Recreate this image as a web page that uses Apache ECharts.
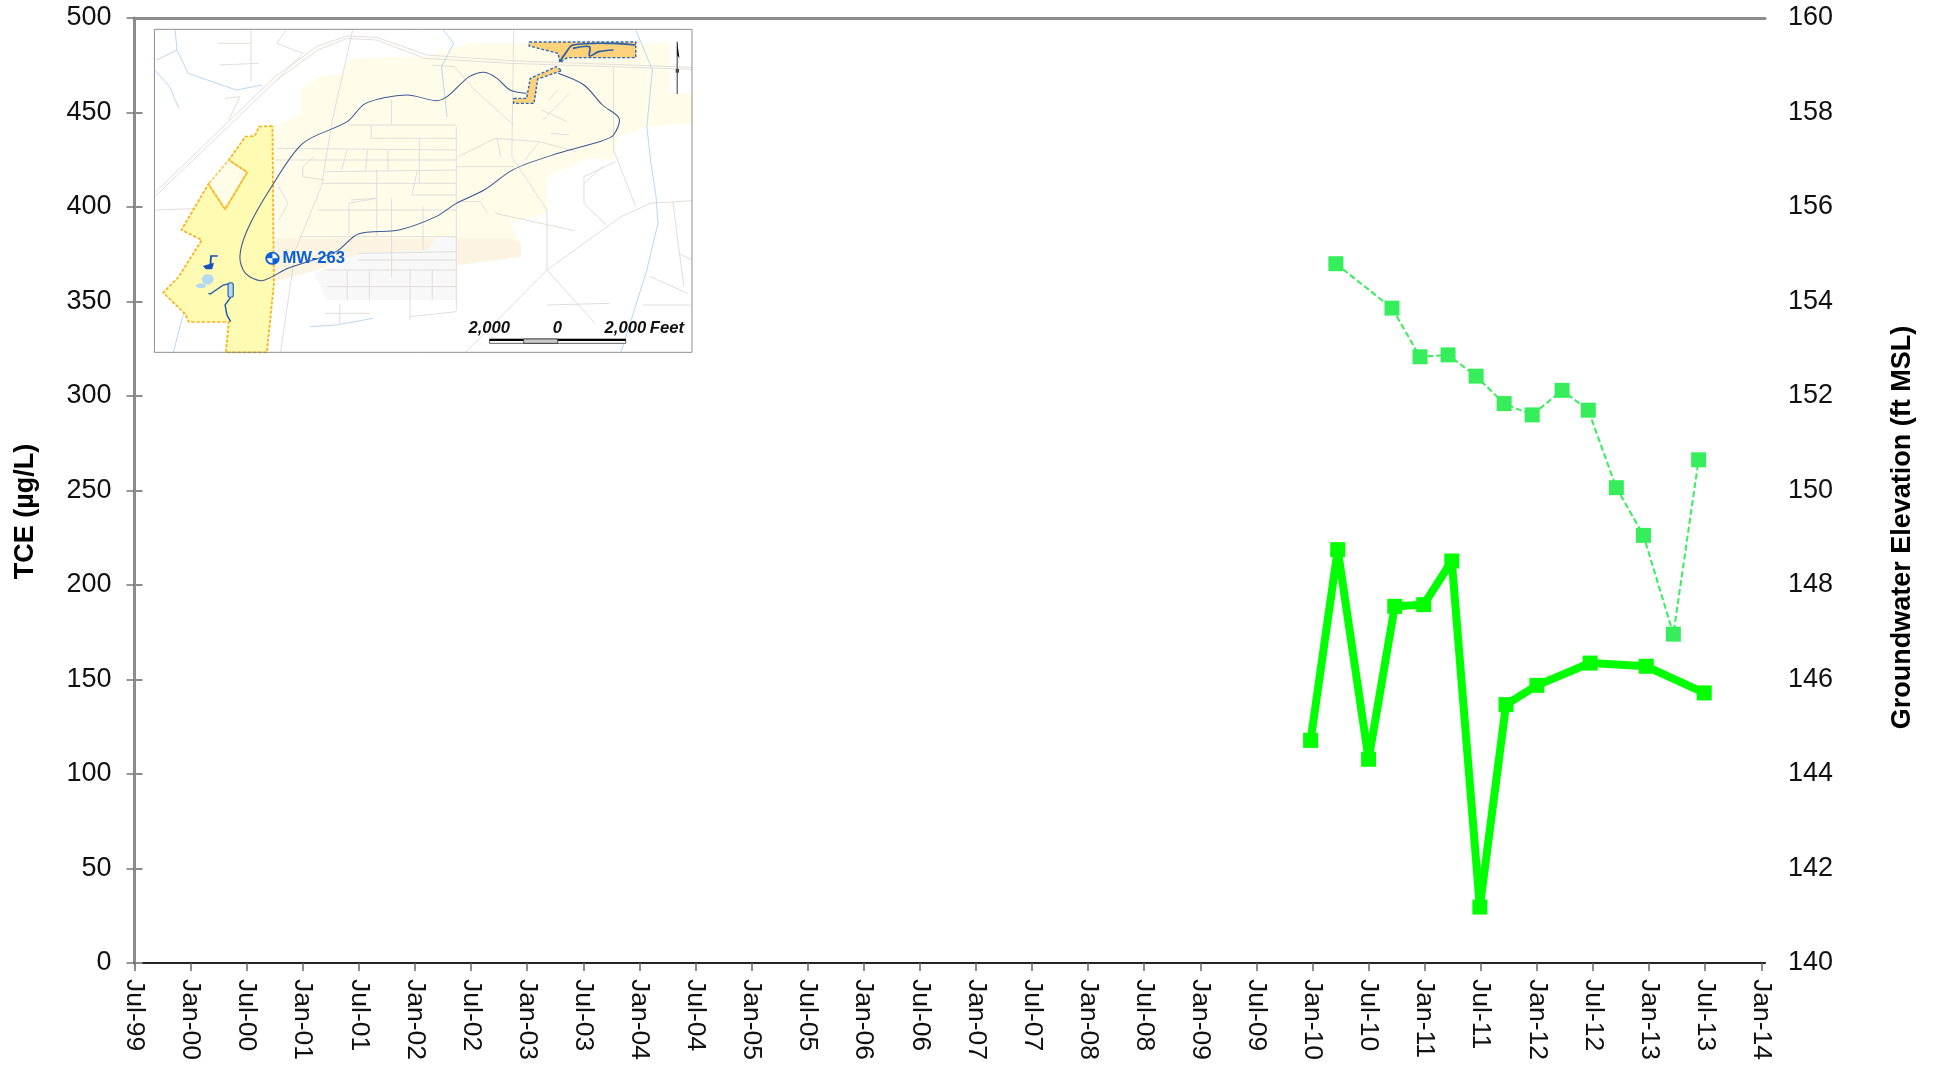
<!DOCTYPE html>
<html><head><meta charset="utf-8">
<style>html,body{margin:0;padding:0;background:#fff}#c{width:1940px;height:1065px}</style>
<script src="https://cdn.jsdelivr.net/npm/echarts@6/dist/echarts.min.js"></script>
</head><body><div id="c"></div>
<script>
// x positions: months after Jul-99
const tickLabels = ['Jul-99','Jan-00','Jul-00','Jan-01','Jul-01','Jan-02','Jul-02','Jan-03','Jul-03','Jan-04','Jul-04','Jan-05','Jul-05','Jan-06','Jul-06','Jan-07','Jul-07','Jan-08','Jul-08','Jan-09','Jul-09','Jan-10','Jul-10','Jan-11','Jul-11','Jan-12','Jul-12','Jan-13','Jul-13','Jan-14'];
const tceMonths = [125.8,128.7,132,134.8,137.9,140.9,143.9,146.7,150,155.7,161.7,167.9];
const tceValues = [117.8,218.7,107.8,188.7,189.6,212.7,29.6,136.7,146.9,158.7,157,142.9];
const gwMonths = [128.5,134.5,137.5,140.5,143.5,146.5,149.5,152.7,155.5,158.5,161.4,164.6,167.3];
const gwValues = [154.8,153.86,152.83,152.87,152.42,151.84,151.6,152.12,151.7,150.06,149.05,146.96,150.65];

// Inset map outlines, in the inset's own drawing units
const paleLand = [[565,145],[770,140],[890,100],[1430,100],[1430,250],[1492,250],[1492,340],[1370,350],[1290,380],[1280,450],[1210,445],[1100,500],[1100,610],[1000,640],[1030,700],[1030,740],[860,765],[860,690],[370,690],[360,350],[435,310],[435,235],[495,195],[545,195]];
const tanLand = [[365,685],[1000,685],[1030,700],[1030,740],[860,765],[600,730],[480,780],[360,815]];
const greyBlock = [[590,730],[780,720],[800,680],[858,680],[858,870],[505,870],[470,790]];
const yellowSite = [[358,348],[322,350],[310,378],[285,380],[240,450],[290,487],[230,598],[185,522],[112,660],[167,690],[105,800],[63,848],[122,912],[132,936],[240,936],[232,1027],[343,1027],[362,820]];
const paleNotch = [[240,450],[290,487],[230,598],[185,522]];
const orangeTop = [[1052,96],[1340,96],[1340,143],[1155,143],[1135,157],[1130,130],[1052,108]];
const orangeStem = [[1010,265],[1045,265],[1055,205],[1125,170],[1140,182],[1075,207],[1065,280],[1010,280]];
const plume = [[1130,190],[1200,225],[1250,285],[1295,325],[1280,375],[1250,392],[1130,430],[1010,478],[930,540],[855,580],[800,620],[700,660],[590,672],[530,725],[400,775],[330,812],[285,790],[270,740],[290,660],[350,540],[440,400],[560,335],[610,280],[720,255],[800,272],[830,260],[890,200],[930,187],[965,205],[1000,240],[1045,250]];
const roads = [
 [[40,560],[370,210],[480,120],[560,85],[640,90],[770,145],[1000,160],[1492,178]],
 [[40,548],[365,200],[480,108],[560,78],[640,82],[775,135],[1000,152],[1492,172]],
 [[575,60],[520,330],[490,530],[420,720],[380,1027]],
 [[1010,60],[1005,440],[1100,600],[1100,780],[1230,940]],
 [[855,350],[855,900]],[[1100,780],[880,1027]],
 [[1100,780],[1300,620],[1380,580],[1492,572]],
 [[1280,170],[1280,420],[1340,590]],
 [[790,165],[850,170],[900,235],[1010,345]],
 [[40,600],[170,595]],[[960,610],[1175,662]],[[855,575],[920,575],[940,610]],
 [[370,415],[855,420]],[[365,450],[855,450]],[[500,485],[855,480]],[[490,520],[855,520]],[[480,600],[855,600]],[[430,680],[855,680]],
 [[565,345],[855,345]],[[625,345],[625,385],[855,385]],[[680,270],[680,345]],[[560,420],[545,480]],[[615,420],[610,480]],[[670,420],[670,480]],[[755,385],[755,520]],[[640,480],[640,680]],[[750,480],[735,555],[855,555]],[[570,570],[640,565],[565,580],[565,680]],[[680,565],[680,800]],[[765,590],[765,720]],
 [[470,440],[440,470],[440,500],[500,510]],[[375,530],[400,580],[375,630]],
 [[855,470],[1010,470]],[[860,440],[960,385],[1080,395],[1180,425]],[[965,385],[975,440]],[[1080,395],[1040,450]],
 [[1090,330],[1160,250]],[[1085,300],[1155,335]],[[1130,240],[1105,270]],[[1110,370],[1160,375]],[[1200,500],[1285,455]],[[1200,500],[1200,580],[1260,645]],
 [[500,780],[855,780]],[[505,830],[855,830]],[[560,780],[560,870]],[[620,780],[620,870]],[[730,780],[730,930]],[[790,780],[790,870]],
 [[590,730],[855,725]],[[590,750],[855,750]],
 [[210,100],[300,100]],[[300,60],[300,215]],[[215,165],[320,160]],[[370,100],[440,130],[370,210]],[[395,60],[370,100]],[[230,265],[270,260],[240,330]],
 [[1440,575],[1470,830]],[[1380,800],[1480,850]],[[1455,730],[1492,750]],[[1100,885],[1270,880]],[[1360,885],[1490,885]],[[1200,520],[1250,470]],
 [[500,910],[620,910]],[[540,880],[540,940]],[[730,920],[855,905]]
];
const rivers = [
 [[95,60],[100,120],[45,150]],[[100,120],[130,190],[260,240],[330,225]],[[40,180],[80,230],[105,295]],
 [[820,60],[848,100],[815,170],[830,320]],
 [[1340,60],[1385,180],[1370,350],[1380,450],[1395,560],[1400,640],[1370,780],[1300,1027]],
 [[460,950],[530,945],[630,925]],[[120,900],[90,1027]]
];
const creekDark = [[210,738],[192,738],[190,770]];
const creekOutfall = [[185,850],[190,852],[225,825],[245,820]];
const creekSouth = [[245,862],[230,885],[235,915],[245,935]];
const topCreek = [[1135,155],[1150,130],[1170,105],[1280,100],[1340,105]];
const topCreekLoop = [[1170,115],[1215,110],[1215,138],[1240,125],[1280,120]];
const northArrow = [[1452,95],[1458,145],[1452,135]];

const SX = 1 / 2.703, SY = 1 / 3;
const TEXT_STRETCH = SX / SY;
function poly(points, fill, extra) {
  return Object.assign({type:'polygon', shape:{points}, style:{fill}}, extra || {});
}
function line(points, stroke, w, dash, smooth) {
  return {type:'polyline', shape:{points, smooth:smooth||0}, style:{fill:null, stroke, lineWidth:w, lineDash:dash||null}};
}
function label(text, x, y, size, color, weight, style, align) {
  return {type:'text', x, y, scaleY:TEXT_STRETCH, style:{text, fill:color, fontFamily:'Liberation Sans', fontSize:size, fontWeight:weight, fontStyle:style||'normal', align:align||'left', verticalAlign:'middle'}};
}
const inset = [
  {type:'rect', shape:{x:39,y:58,width:1453,height:969}, style:{fill:'#fff'}},
  poly(paleLand,'#FFFDEA'),
  poly(tanLand,'#FCF4E2'),
  poly(greyBlock,'#F8F8F8'),
  ...roads.map(r => line(r,'#DEDBD8',2.6)),
  ...rivers.map(r => line(r,'#B4D3F1',2.6)),
  poly(yellowSite,'#FFFBB2'),
  poly(paleNotch,'#FFFDE8'),
  line(yellowSite.concat([yellowSite[0]]),'#F9B31E',5,[9,5]),
  line(paleNotch.concat([paleNotch[0]]),'#F9C23E',4,[9,5]),
  poly(orangeTop,'#FDD27A'),
  line(orangeTop.concat([orangeTop[0]]),'#2F66B8',4,[8,5]),
  poly(orangeStem,'#FDD27A'),
  line(orangeStem.concat([orangeStem[0]]),'#2F66B8',4,[8,5]),
  line(topCreek,'#2C5FA8',5,null,0.3),
  line(topCreekLoop,'#2C5FA8',5,null,0.3),
  line(plume,'#3D5A94',3,null,0.3),
  line(creekDark,'#1450C0',5),
  poly([[170,768],[200,758],[195,778],[178,778]],'#1450C0'),
  {type:'circle', shape:{cx:183,cy:808,r:16}, style:{fill:'#B5DAF0'}},
  {type:'ellipse', shape:{cx:165,cy:827,rx:14,ry:7}, style:{fill:'#B5DAF0'}},
  line(creekOutfall,'#1F5CAC',4),
  line(creekSouth,'#1F5CAC',4),
  {type:'rect', shape:{x:238,y:818,width:14,height:44,r:6}, style:{fill:'#B5DAF0', stroke:'#1F5CAC', lineWidth:3}},
  {type:'circle', shape:{cx:358,cy:745,r:17}, style:{fill:'#fff', stroke:'#0B5FD9', lineWidth:5}},
  {type:'sector', shape:{cx:358,cy:745,r:17,startAngle:Math.PI,endAngle:Math.PI*1.5}, style:{fill:'#0B5FD9'}},
  {type:'sector', shape:{cx:358,cy:745,r:17,startAngle:0,endAngle:Math.PI*0.5}, style:{fill:'#0B5FD9'}},
  label('MW-263',385,746,45,'#0B5FD9','bold'),
  label('2,000',944,954,45,'#111','bold','italic','center'),
  label('0',1128,954,45,'#111','bold','italic','center'),
  label('2,000',1312,954,45,'#111','bold','italic','center'),
  label('Feet',1378,954,45,'#111','bold','italic'),
  {type:'rect', shape:{x:945,y:987,width:368,height:13}, style:{fill:'#fff', stroke:'#222', lineWidth:2}},
  {type:'rect', shape:{x:945,y:987,width:92,height:6}, style:{fill:'#000'}},
  {type:'rect', shape:{x:1037,y:987,width:92,height:13}, style:{fill:'#C8C8C8', stroke:'#222', lineWidth:2}},
  {type:'rect', shape:{x:1129,y:987,width:184,height:6}, style:{fill:'#000'}},
  line([[1452,95],[1452,252]],'#222',2.6),
  poly(northArrow,'#000'),
  {type:'rect', shape:{x:1448,y:177,width:9,height:11}, style:{fill:'#444'}},
  {type:'rect', shape:{x:39,y:58,width:1453,height:969}, style:{fill:null, stroke:'#7F7F7F', lineWidth:2.5}}
];

const xTicks = tickLabels.map((_, i) => i * 6);
const F = 'Liberation Sans';
const chart = echarts.init(document.getElementById('c'));
chart.setOption({
  animation:false, backgroundColor:'#fff',
  grid:{left:134.5, right:175, top:18, bottom:102, containLabel:false, outerBoundsMode:'none'},
  xAxis:[{
    type:'value', min:0, max:174.4, position:'bottom', splitLine:{show:false},
    axisLine:{show:true, lineStyle:{color:'#222', width:2}},
    axisTick:{show:true, length:8, inside:false, customValues:xTicks, lineStyle:{color:'#666', width:1.5}},
    axisLabel:{show:true, customValues:xTicks, rotate:-90, margin:16, fontFamily:F, fontSize:26.5, color:'#111', hideOverlap:false,
      formatter:v => tickLabels[Math.round(v/6)]}
  },{
    type:'value', min:0, max:174.4, position:'top', splitLine:{show:false},
    axisLine:{show:true, lineStyle:{color:'#8C8C8C', width:3}}, axisTick:{show:false}, axisLabel:{show:false}
  }],
  yAxis:[{
    type:'value', min:0, max:500, interval:50, position:'left', splitLine:{show:false},
    axisLine:{show:true, lineStyle:{color:'#111', width:2}},
    axisTick:{show:true, length:8, lineStyle:{color:'#777', width:1.5}},
    axisLabel:{margin:23, fontFamily:F, fontSize:27, color:'#111', padding:[5,0,0,0]},
    name:'TCE (µg/L)', nameLocation:'middle', nameRotate:90, nameGap:95,
    nameTextStyle:{fontFamily:F, fontSize:27, fontWeight:'bold', color:'#000', padding:[0,42,0,0]}
  },{
    type:'value', min:140, max:160, interval:2, position:'right', splitLine:{show:false},
    axisLine:{show:true, lineStyle:{color:'#8C8C8C', width:3}},
    axisTick:{show:true, length:8, lineStyle:{color:'#8C8C8C', width:2}},
    axisLabel:{margin:23, fontFamily:F, fontSize:27, color:'#111', padding:[5,0,0,0]},
    name:'Groundwater Elevation (ft MSL)', nameLocation:'middle', nameRotate:90, nameGap:124,
    nameTextStyle:{fontFamily:F, fontSize:27, fontWeight:'bold', color:'#000', padding:[0,74,0,0]}
  }],
  graphic:[{type:'group', x:140, y:10, scaleX:SX, scaleY:SY, children:inset}],
  series:[{
    name:'TCE', type:'line', xAxisIndex:0, yAxisIndex:0,
    data:tceMonths.map((m,i)=>[m,tceValues[i]]),
    symbol:'rect', symbolSize:15, lineStyle:{color:'#00FF00', width:8},
    itemStyle:{color:'#00FF00'}
  },{
    name:'Groundwater Elevation', type:'line', xAxisIndex:0, yAxisIndex:1,
    data:gwMonths.map((m,i)=>[m,gwValues[i]]),
    symbol:'rect', symbolSize:15, lineStyle:{color:'#36EE5B', width:2, type:[6,3]},
    itemStyle:{color:'#36EE5B'}
  }]
});
</script></body></html>
